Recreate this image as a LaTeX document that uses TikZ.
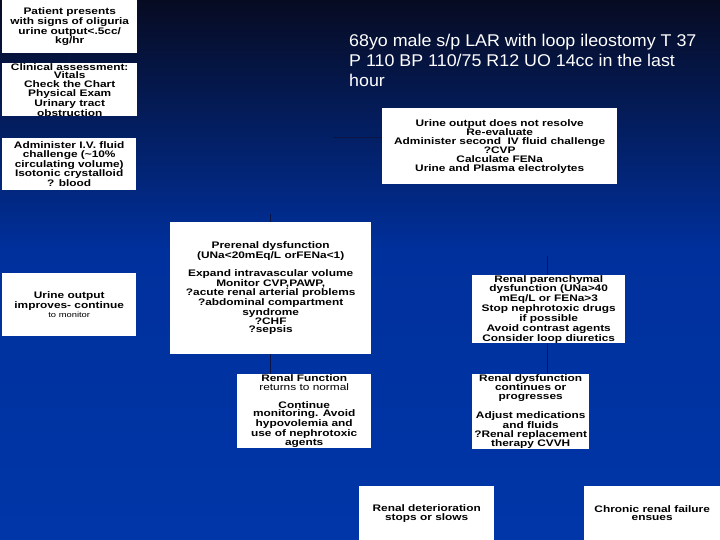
\documentclass[tikz,border=0pt]{standalone}
\usepackage{fontspec}
\setmainfont{Liberation Sans}
\newfontfamily\boxfam[FakeStretch=1.25]{Liberation Sans}
\newfontfamily\titlefam[FakeStretch=1.05]{Liberation Sans}
\definecolor{bgtop}{HTML}{070B22}
\definecolor{bgmid}{HTML}{00309C}
\definecolor{bgbot}{HTML}{0036A8}
\definecolor{conncol}{HTML}{0B1446}
\begin{document}
\begin{tikzpicture}[x=1pt,y=-1pt,
  flowbox/.style 2 args={fill=white, draw=none, inner sep=0pt, minimum width=#1, minimum height=#2,
    anchor=north west, align=center, text=black,
    font=\boxfam\bfseries\fontsize{9.5}{8.8}\selectfont},
  conn/.style={draw=conncol, line width=0.8pt},
  titletext/.style={anchor=north west, inner sep=0pt, align=left, text=white,
    font=\titlefam\fontsize{17}{20}\selectfont}]
\useasboundingbox (0,0) rectangle (720,540);
\shade[top color=bgtop, bottom color=bgmid] (0,0) rectangle (720,250);
\shade[top color=bgmid, bottom color=bgbot] (0,250) rectangle (720,540);

% coordinates for connectors
\coordinate (leftx) at (270,0);
\coordinate (rightx) at (547,0);
\coordinate (toprerenal) at (270,214);
\coordinate (toparench) at (547,256);
\coordinate (tofive) at (333,137);

% boxes
\node[flowbox={135pt}{53pt}] (patient) at (2,0) {Patient presents\\with signs of oliguria\\urine output<.5cc/\\kg/hr};
\node[flowbox={135pt}{53pt}] (assess) at (2,63) {Clinical assessment:\\Vitals\\Check the Chart\\Physical Exam\\Urinary tract\\obstruction};
\node[flowbox={134pt}{52pt}] (fluid) at (2,138) {Administer I.V. fluid\\challenge (\textasciitilde10\%\\circulating volume)\\Isotonic crystalloid\\? blood};
\node[flowbox={134pt}{63pt}] (improves) at (2,273) {Urine output\\improves- continue\\{\mdseries\fontsize{7.5}{8.8}\selectfont to monitor}};
\node[flowbox={235pt}{76pt}] (resolve) at (382,108) {Urine output does not resolve\\Re-evaluate\\Administer second\ \ IV fluid challenge\\?CVP\\Calculate FENa\\Urine and Plasma electrolytes};
\node[flowbox={201pt}{132pt}] (prerenal) at (170,222) {Prerenal dysfunction\\(UNa<20mEq/L orFENa<1)\\[8.8pt]Expand intravascular volume\\Monitor CVP,PAWP,\\?acute renal arterial problems\\?abdominal compartment\\syndrome\\?CHF\\?sepsis};
\node[flowbox={153pt}{67pt}] (parench) at (472,275) {Renal parenchymal\\dysfunction (UNa>40\\mEq/L or FENa>3\\Stop nephrotoxic drugs\\if possible\\Avoid contrast agents\\Consider loop diuretics};
\node[flowbox={134pt}{74pt}] (normal) at (237,374) {Renal Function\\{\mdseries returns to normal}\\[8.8pt]Continue\\monitoring. Avoid\\hypovolemia and\\use of nephrotoxic\\agents};
\node[flowbox={117pt}{74pt}] (progress) at (472,374) {Renal dysfunction\\continues or\\progresses\\[8.8pt]Adjust medications\\and fluids\\?Renal replacement\\therapy CVVH};
\node[flowbox={135pt}{54pt}] (stops) at (359,486) {Renal deterioration\\stops or slows};
\node[flowbox={136pt}{54pt}] (chronic) at (584,486) {Chronic renal failure\\ensues};

% connectors (faint)
\draw[conn] (patient.south) -- (assess.north);
\draw[conn] (tofive) -- (tofive -| resolve.west);
\draw[conn] (toprerenal) -- (toprerenal |- prerenal.north);
\draw[conn] (prerenal.south -| leftx) -- (normal.north -| leftx);
\draw[conn] (toparench) -- (toparench |- parench.north);
\draw[conn] (parench.south -| rightx) -- (progress.north -| rightx);

% title text
\node[titletext] (title) at (349,34) {68yo male s/p LAR with loop ileostomy T 37\\P 110 BP 110/75 R12 UO 14cc in the last\\hour};
\end{tikzpicture}
\end{document}
